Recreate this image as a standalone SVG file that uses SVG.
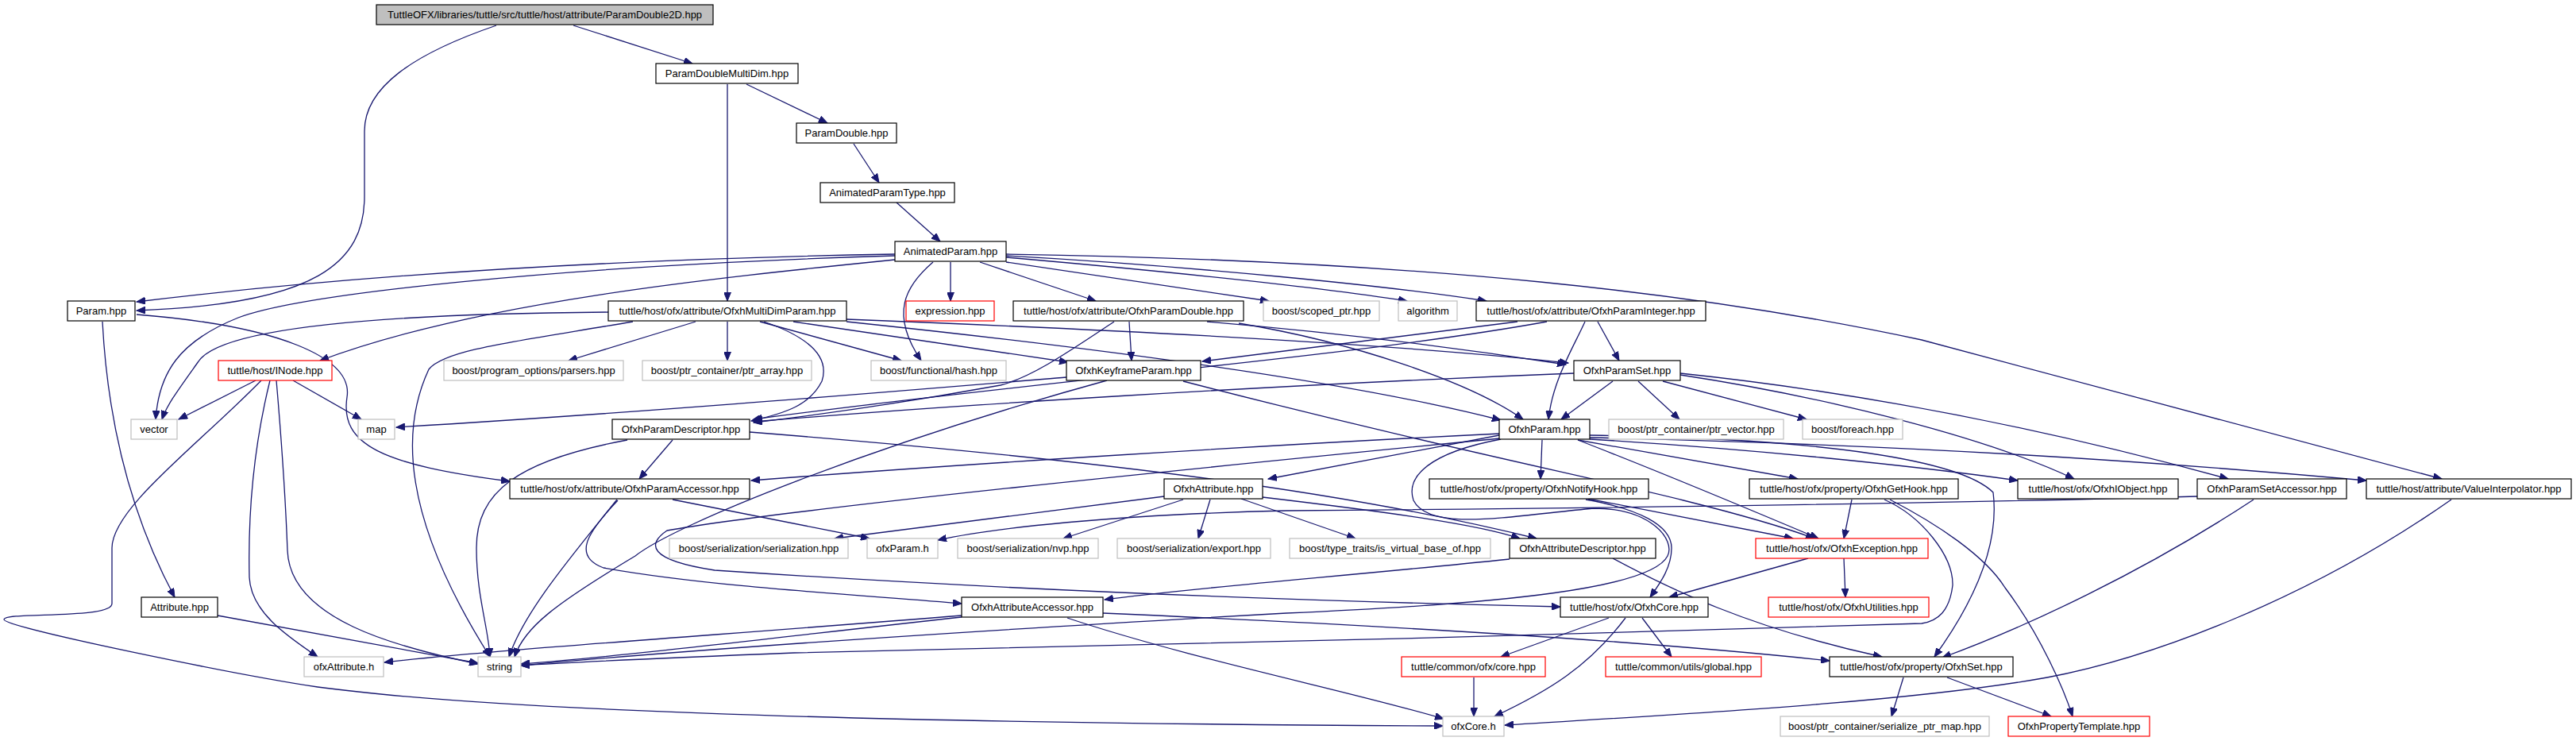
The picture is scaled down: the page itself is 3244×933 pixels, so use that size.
<svg xmlns="http://www.w3.org/2000/svg" width="3244" height="933" viewBox="0 0 3244 933">
<style>
rect{fill:#fff;stroke:#000;stroke-width:1.2}
.g rect{stroke:#bfbfbf}
.r rect{stroke:#ff0000}
.root rect{fill:#bfbfbf}
text{font-family:"Liberation Sans",Arial,sans-serif;font-size:13px;text-anchor:middle;fill:#000}
#edges path{fill:none;stroke:#191970;stroke-width:1.3;marker-end:url(#a)}
</style>
<defs>
<marker id="a" markerUnits="userSpaceOnUse" markerWidth="12" markerHeight="9" refX="11" refY="4.5" orient="auto">
<path d="M0,0L11,4.5L0,9z" fill="#191970" stroke="#191970" stroke-width="1"/>
</marker>
</defs>
<rect x="0" y="0" width="3244" height="933" style="fill:#fff;stroke:none"/>
<g id="edges">
<path d="M722,32L872,80"/>
<path d="M625,32C520,68 459,110 459,165L459,247C459,330 400,383 172,391"/>
<path d="M916,106L916,379"/>
<path d="M940,106L1042,155"/>
<path d="M1075,181L1107,230"/>
<path d="M1129,255L1184,304"/>
<path d="M1127,320C850,325 500,340 172,380"/>
<path d="M1127,322C700,335 380,370 300,400C225,430 200,470 196,528"/>
<path d="M1127,327C900,350 600,380 403,454"/>
<path d="M1175,330C1140,360 1120,395 1160,454"/>
<path d="M1197,330L1197,379"/>
<path d="M1234,330L1380,379"/>
<path d="M1267,330L1598,379"/>
<path d="M1267,324C1450,340 1650,360 1772,379"/>
<path d="M1267,322C1500,335 1750,360 1872,379"/>
<path d="M1267,320C1800,328 2150,370 2420,428L3075,603"/>
<path d="M129,405C135,520 160,640 220,752"/>
<path d="M172,396C350,410 445,450 437,500C428,560 480,585 642,606"/>
<path d="M766,393C500,395 280,410 250,455C225,490 210,510 204,528"/>
<path d="M797,405C650,430 560,440 540,465C505,540 505,650 617,827"/>
<path d="M876,405L716,454"/>
<path d="M916,405L916,454"/>
<path d="M957,405L1135,454"/>
<path d="M962,405C1020,425 1045,450 1035,480C1020,510 990,520 946,530"/>
<path d="M999,405L1345,456"/>
<path d="M1066,402C1400,415 1750,432 1975,457"/>
<path d="M1066,405C1400,440 1700,480 1890,529"/>
<path d="M1422,405L1425,454"/>
<path d="M1403,405C1350,440 1300,475 1260,485C1150,505 1050,520 949,532"/>
<path d="M1520,405C1700,420 1850,440 1972,459"/>
<path d="M1560,407C1700,430 1850,480 1918,528"/>
<path d="M1911,405L1514,455"/>
<path d="M1948,405C1700,450 1300,480 949,528"/>
<path d="M2012,405L2039,454"/>
<path d="M1996,405C1980,440 1955,480 1950,528"/>
<path d="M322,479L225,528"/>
<path d="M369,479L455,528"/>
<path d="M340,479C320,560 312,640 314,727C316,770 360,800 400,827"/>
<path d="M348,479C355,560 360,640 362,693C365,780 500,815 602,836"/>
<path d="M329,479C250,560 141,640 141,690L141,760C141,780 5,770 5,780C5,790 300,850 400,865C700,905 1400,912 1817,914"/>
<path d="M1394,479C1100,560 850,660 800,700C700,760 660,790 648,827"/>
<path d="M1490,480C1800,560 2000,600 2120,630C2200,650 2250,665 2285,678"/>
<path d="M1343,475C1100,495 800,520 499,538"/>
<path d="M2031,480L1966,528"/>
<path d="M2063,480L2115,528"/>
<path d="M2094,480L2275,528"/>
<path d="M1982,470C1600,485 1200,510 949,531"/>
<path d="M2116,472C2300,500 2500,550 2612,603"/>
<path d="M2116,470C2400,500 2650,560 2806,603"/>
<path d="M1942,554L1940,603"/>
<path d="M1987,554L2264,603"/>
<path d="M2002,553C2200,565 2400,585 2541,605"/>
<path d="M2002,551C2400,560 2700,580 2980,605"/>
<path d="M1987,554C2080,590 2200,640 2290,678"/>
<path d="M2002,548C2300,552 2470,580 2510,620C2520,700 2470,780 2436,827"/>
<path d="M1888,548L1597,603"/>
<path d="M1889,546C1600,560 1200,585 946,605"/>
<path d="M1890,553C1800,570 1770,600 1780,630C1800,670 1900,650 2007,640C2080,640 2110,680 2100,700C2080,740 1900,760 1620,772C1300,790 900,815 656,838"/>
<path d="M1889,552C1500,590 1000,640 840,668C815,685 815,705 900,718C1300,745 1700,758 1965,764"/>
<path d="M2767,625C2400,635 2000,640 1620,643C1400,648 1250,665 1181,680"/>
<path d="M2000,628L2258,678"/>
<path d="M1997,629C2060,640 2105,660 2105,690C2105,715 2090,735 2078,752"/>
<path d="M2332,629L2322,678"/>
<path d="M2380,629C2440,660 2500,700 2525,740C2570,800 2600,870 2610,902"/>
<path d="M2373,629C2420,650 2460,700 2459,737C2455,770 2440,782 2420,785C2000,800 1300,815 1000,822C800,830 700,835 656,838"/>
<path d="M2838,629C2700,720 2550,790 2446,828"/>
<path d="M3087,629C2900,760 2700,830 2578,853C2400,885 2100,900 1895,913"/>
<path d="M2322,703L2324,752"/>
<path d="M2277,703L2102,752"/>
<path d="M2026,778L1890,827"/>
<path d="M2068,778L2105,827"/>
<path d="M2047,778C2000,840 1950,870 1882,902"/>
<path d="M1856,853L1856,902"/>
<path d="M1901,704C1700,725 1500,740 1391,755"/>
<path d="M2031,703C2100,740 2200,790 2370,827"/>
<path d="M1211,777C1000,800 800,825 656,836"/>
<path d="M1211,775C900,800 600,820 484,834"/>
<path d="M1344,778C1500,830 1700,870 1818,905"/>
<path d="M1389,772C1800,790 2100,810 2304,832"/>
<path d="M847,554L805,603"/>
<path d="M944,544C1400,580 1700,620 1935,678"/>
<path d="M1466,625L1051,678"/>
<path d="M1490,629L1339,678"/>
<path d="M1524,629L1509,678"/>
<path d="M1563,628L1707,678"/>
<path d="M1590,626C1750,645 1860,660 1914,678"/>
<path d="M847,629L1095,678"/>
<path d="M777,629C720,700 660,770 641,827"/>
<path d="M778,630C740,670 720,700 760,715C900,740 1100,750 1211,760"/>
<path d="M790,554C650,580 600,620 600,690C600,750 615,790 617,827"/>
<path d="M2452,853L2583,902"/>
<path d="M2397,853L2382,902"/>
<path d="M274,775L602,835"/>
</g>
<g id="root" class="root"><rect x="474" y="6" width="424" height="25"/><text x="686" y="23">TuttleOFX/libraries/tuttle/src/tuttle/host/attribute/ParamDouble2D.hpp</text></g>
<g id="n_pdmd"><rect x="826" y="80" width="179" height="25"/><text x="915.5" y="97">ParamDoubleMultiDim.hpp</text></g>
<g id="n_pd"><rect x="1003" y="155" width="126" height="25"/><text x="1066" y="172">ParamDouble.hpp</text></g>
<g id="n_apt"><rect x="1033" y="230" width="169" height="25"/><text x="1117.5" y="247">AnimatedParamType.hpp</text></g>
<g id="n_ap"><rect x="1127" y="304" width="140" height="25"/><text x="1197" y="321">AnimatedParam.hpp</text></g>
<g id="n_param"><rect x="85" y="379" width="85" height="25"/><text x="127.5" y="396">Param.hpp</text></g>
<g id="n_omdp"><rect x="766" y="379" width="300" height="25"/><text x="916" y="396">tuttle/host/ofx/attribute/OfxhMultiDimParam.hpp</text></g>
<g id="n_expr" class="r"><rect x="1141" y="379" width="111" height="25"/><text x="1196.5" y="396">expression.hpp</text></g>
<g id="n_opd"><rect x="1276" y="379" width="290" height="25"/><text x="1421" y="396">tuttle/host/ofx/attribute/OfxhParamDouble.hpp</text></g>
<g id="n_scoped" class="g"><rect x="1591" y="379" width="146" height="25"/><text x="1664" y="396">boost/scoped_ptr.hpp</text></g>
<g id="n_algo" class="g"><rect x="1761" y="379" width="74" height="25"/><text x="1798" y="396">algorithm</text></g>
<g id="n_opi"><rect x="1859" y="379" width="289" height="25"/><text x="2003.5" y="396">tuttle/host/ofx/attribute/OfxhParamInteger.hpp</text></g>
<g id="n_inode" class="r"><rect x="275" y="454" width="143" height="25"/><text x="346.5" y="471">tuttle/host/INode.hpp</text></g>
<g id="n_po" class="g"><rect x="559" y="454" width="226" height="25"/><text x="672" y="471">boost/program_options/parsers.hpp</text></g>
<g id="n_ptrarr" class="g"><rect x="809" y="454" width="213" height="25"/><text x="915.5" y="471">boost/ptr_container/ptr_array.hpp</text></g>
<g id="n_hash" class="g"><rect x="1097" y="454" width="170" height="25"/><text x="1182" y="471">boost/functional/hash.hpp</text></g>
<g id="n_kf"><rect x="1343" y="454" width="169" height="25"/><text x="1427.5" y="471">OfxhKeyframeParam.hpp</text></g>
<g id="n_pset"><rect x="1982" y="454" width="134" height="25"/><text x="2049" y="471">OfxhParamSet.hpp</text></g>
<g id="n_vector" class="g"><rect x="165" y="528" width="58" height="25"/><text x="194" y="545">vector</text></g>
<g id="n_map" class="g"><rect x="451" y="528" width="46" height="25"/><text x="474" y="545">map</text></g>
<g id="n_pdesc"><rect x="771" y="528" width="173" height="25"/><text x="857.5" y="545">OfxhParamDescriptor.hpp</text></g>
<g id="n_param2"><rect x="1888" y="528" width="114" height="25"/><text x="1945" y="545">OfxhParam.hpp</text></g>
<g id="n_ptrvec" class="g"><rect x="2026" y="528" width="220" height="25"/><text x="2136" y="545">boost/ptr_container/ptr_vector.hpp</text></g>
<g id="n_foreach" class="g"><rect x="2270" y="528" width="126" height="25"/><text x="2333" y="545">boost/foreach.hpp</text></g>
<g id="n_pacc"><rect x="642" y="603" width="302" height="25"/><text x="793" y="620">tuttle/host/ofx/attribute/OfxhParamAccessor.hpp</text></g>
<g id="n_attr"><rect x="1466" y="603" width="124" height="25"/><text x="1528" y="620">OfxhAttribute.hpp</text></g>
<g id="n_notify"><rect x="1800" y="603" width="276" height="25"/><text x="1938" y="620">tuttle/host/ofx/property/OfxhNotifyHook.hpp</text></g>
<g id="n_gethook"><rect x="2203" y="603" width="263" height="25"/><text x="2334.5" y="620">tuttle/host/ofx/property/OfxhGetHook.hpp</text></g>
<g id="n_iobj"><rect x="2541" y="603" width="202" height="25"/><text x="2642" y="620">tuttle/host/ofx/OfxhIObject.hpp</text></g>
<g id="n_psacc"><rect x="2767" y="603" width="188" height="25"/><text x="2861" y="620">OfxhParamSetAccessor.hpp</text></g>
<g id="n_vi"><rect x="2980" y="603" width="258" height="25"/><text x="3109" y="620">tuttle/host/attribute/ValueInterpolator.hpp</text></g>
<g id="n_ser" class="g"><rect x="843" y="678" width="225" height="25"/><text x="955.5" y="695">boost/serialization/serialization.hpp</text></g>
<g id="n_ofxparam" class="g"><rect x="1092" y="678" width="89" height="25"/><text x="1136.5" y="695">ofxParam.h</text></g>
<g id="n_nvp" class="g"><rect x="1206" y="678" width="177" height="25"/><text x="1294.5" y="695">boost/serialization/nvp.hpp</text></g>
<g id="n_export" class="g"><rect x="1407" y="678" width="193" height="25"/><text x="1503.5" y="695">boost/serialization/export.hpp</text></g>
<g id="n_virt" class="g"><rect x="1624" y="678" width="253" height="25"/><text x="1750.5" y="695">boost/type_traits/is_virtual_base_of.hpp</text></g>
<g id="n_adesc"><rect x="1901" y="678" width="184" height="25"/><text x="1993" y="695">OfxhAttributeDescriptor.hpp</text></g>
<g id="n_exc" class="r"><rect x="2211" y="678" width="217" height="25"/><text x="2319.5" y="695">tuttle/host/ofx/OfxhException.hpp</text></g>
<g id="n_attrhpp"><rect x="178" y="752" width="96" height="25"/><text x="226" y="769">Attribute.hpp</text></g>
<g id="n_aacc"><rect x="1211" y="752" width="178" height="25"/><text x="1300" y="769">OfxhAttributeAccessor.hpp</text></g>
<g id="n_core"><rect x="1965" y="752" width="186" height="25"/><text x="2058" y="769">tuttle/host/ofx/OfxhCore.hpp</text></g>
<g id="n_util" class="r"><rect x="2227" y="752" width="202" height="25"/><text x="2328" y="769">tuttle/host/ofx/OfxhUtilities.hpp</text></g>
<g id="n_ofxattr" class="g"><rect x="383" y="827" width="100" height="25"/><text x="433" y="844">ofxAttribute.h</text></g>
<g id="n_string" class="g"><rect x="602" y="827" width="54" height="25"/><text x="629" y="844">string</text></g>
<g id="n_ccore" class="r"><rect x="1765" y="827" width="181" height="25"/><text x="1855.5" y="844">tuttle/common/ofx/core.hpp</text></g>
<g id="n_global" class="r"><rect x="2022" y="827" width="196" height="25"/><text x="2120" y="844">tuttle/common/utils/global.hpp</text></g>
<g id="n_set"><rect x="2304" y="827" width="231" height="25"/><text x="2419.5" y="844">tuttle/host/ofx/property/OfxhSet.hpp</text></g>
<g id="n_ofxcore" class="g"><rect x="1817" y="902" width="77" height="25"/><text x="1855.5" y="919">ofxCore.h</text></g>
<g id="n_spm" class="g"><rect x="2242" y="902" width="263" height="25"/><text x="2373.5" y="919">boost/ptr_container/serialize_ptr_map.hpp</text></g>
<g id="n_ptpl" class="r"><rect x="2529" y="902" width="178" height="25"/><text x="2618" y="919">OfxhPropertyTemplate.hpp</text></g>
</svg>
